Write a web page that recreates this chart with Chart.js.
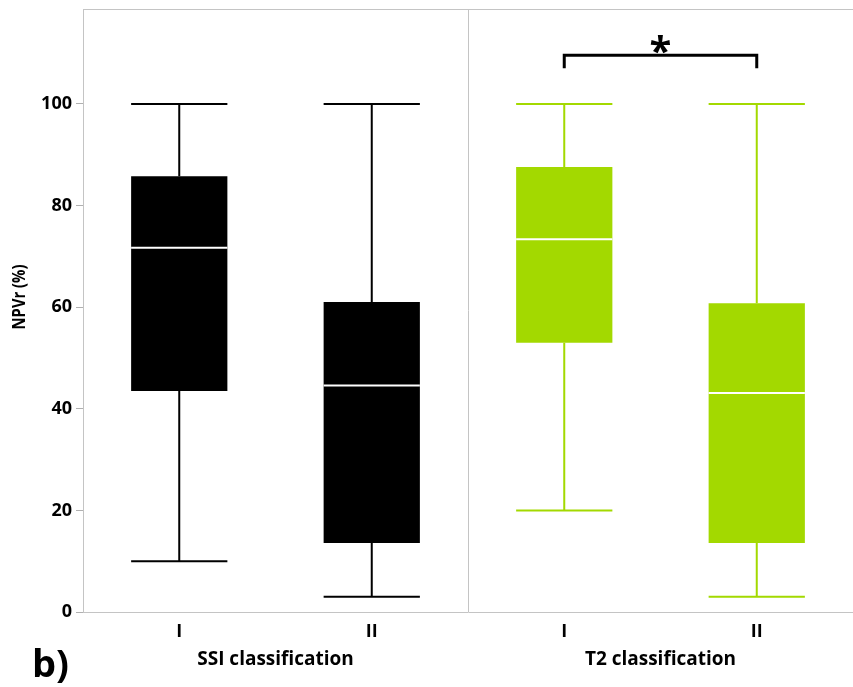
<!DOCTYPE html>
<html>
<head>
<meta charset="utf-8">
<script src="https://cdn.jsdelivr.net/npm/chart.js@4.4.1/dist/chart.umd.min.js"></script>
<style>
  html, body { margin: 0; padding: 0; background: #fff; }
  #wrap { width: 853px; height: 687px; }
</style>
</head>
<body>
<div id="wrap"><canvas id="boxChart"></canvas></div>
<script>
/* ---------- DATA ---------- */
const categories = ['I', 'II', 'I', 'II'];
const groups = ['SSI classification', 'T2 classification'];
const whiskerLow = [10, 3, 20, 3];
const q1 = [43.5, 13.6, 53, 13.6];
const median = [71.7, 44.6, 73.4, 43.1];
const q3 = [85.8, 61, 87.6, 60.8];
const whiskerHigh = [100, 100, 100, 100];
const yTicks = [0, 20, 40, 60, 80, 100];
const sigPair = [2, 3];
const sigLevel = 109.6;
const sigLabel = '*';
const yTitle = 'NPVr (%)';
const panelLabel = 'b)';

const BLACK = '#000000';
const GREEN = '#a3d900';
const boxColors = [BLACK, BLACK, GREEN, GREEN];
const FONT = '"Open Sans", "DejaVu Sans", sans-serif';

/* ---------- BOX EXTRAS: whiskers, medians, frame, labels ---------- */
const boxExtras = {
  id: 'boxExtras',
  afterDatasetsDraw(chart) {
    const { ctx, chartArea, scales: { x, y } } = chart;
    const bars = chart.getDatasetMeta(0).data;
    ctx.save();

    bars.forEach((bar, i) => {
      const half = bar.width / 2;
      const cx = bar.x;
      // whiskers
      ctx.strokeStyle = boxColors[i];
      ctx.lineWidth = 2;
      ctx.beginPath();
      ctx.moveTo(cx, y.getPixelForValue(q3[i]));
      ctx.lineTo(cx, y.getPixelForValue(whiskerHigh[i]));
      ctx.moveTo(cx - half, y.getPixelForValue(whiskerHigh[i]));
      ctx.lineTo(cx + half, y.getPixelForValue(whiskerHigh[i]));
      ctx.moveTo(cx, y.getPixelForValue(q1[i]));
      ctx.lineTo(cx, y.getPixelForValue(whiskerLow[i]));
      ctx.moveTo(cx - half, y.getPixelForValue(whiskerLow[i]));
      ctx.lineTo(cx + half, y.getPixelForValue(whiskerLow[i]));
      ctx.stroke();
      // median
      ctx.strokeStyle = '#ffffff';
      ctx.beginPath();
      ctx.moveTo(cx - half, y.getPixelForValue(median[i]));
      ctx.lineTo(cx + half, y.getPixelForValue(median[i]));
      ctx.stroke();
    });

    // top frame + group separator
    ctx.strokeStyle = '#c4c4c4';
    ctx.lineWidth = 1;
    ctx.beginPath();
    ctx.moveTo(chartArea.left, chartArea.top + 0.5);
    ctx.lineTo(chartArea.right, chartArea.top + 0.5);
    const sep = Math.round((x.getPixelForValue(1) + x.getPixelForValue(2)) / 2) + 0.5;
    ctx.moveTo(sep, chartArea.top);
    ctx.lineTo(sep, chartArea.bottom);
    ctx.stroke();

    // significance bracket
    const x1 = x.getPixelForValue(sigPair[0]);
    const x2 = x.getPixelForValue(sigPair[1]);
    const yb = y.getPixelForValue(sigLevel);
    ctx.strokeStyle = BLACK;
    ctx.lineWidth = 3;
    ctx.lineCap = 'butt';
    ctx.lineJoin = 'miter';
    ctx.beginPath();
    ctx.moveTo(x1, yb + 13);
    ctx.lineTo(x1, yb);
    ctx.lineTo(x2, yb);
    ctx.lineTo(x2, yb + 13);
    ctx.stroke();
    ctx.fillStyle = BLACK;
    ctx.font = `bold 40px ${FONT}`;
    ctx.textAlign = 'center';
    ctx.textBaseline = 'alphabetic';
    ctx.fillText(sigLabel, (x1 + x2) / 2, yb + 10);

    // group labels
    ctx.font = `bold 19px ${FONT}`;
    ctx.textBaseline = 'middle';
    groups.forEach((g, gi) => {
      const gx = (x.getPixelForValue(gi * 2) + x.getPixelForValue(gi * 2 + 1)) / 2;
      ctx.fillText(g, gx, 660);
    });

    // y axis title (slightly condensed)
    ctx.save();
    ctx.translate(20, 297);
    ctx.rotate(-Math.PI / 2);
    ctx.scale(0.87, 1);
    ctx.font = `bold 17px ${FONT}`;
    ctx.fillText(yTitle, 0, 0);
    ctx.restore();

    // panel label
    ctx.font = `bold 38px ${FONT}`;
    ctx.textAlign = 'left';
    ctx.textBaseline = 'alphabetic';
    ctx.fillText(panelLabel, 32, 677);

    ctx.restore();
  }
};

/* ---------- CHART ---------- */
new Chart(document.getElementById('boxChart'), {
  type: 'bar',
  data: {
    labels: categories,
    datasets: [{
      data: categories.map((_, i) => [q1[i], q3[i]]),
      backgroundColor: boxColors,
      borderWidth: 0,
      borderSkipped: false,
      barPercentage: 0.5,
      categoryPercentage: 1
    }]
  },
  options: {
    responsive: true,
    maintainAspectRatio: false,
    animation: false,
    layout: { padding: { top: 9, right: 0, bottom: 0, left: 0 } },
    plugins: { legend: { display: false }, tooltip: { enabled: false } },
    scales: {
      x: {
        grid: { display: false, drawTicks: false },
        border: { display: true, color: '#c4c4c4' },
        ticks: { color: BLACK, font: { family: FONT, size: 18, weight: 'bold' }, padding: 9 },
        afterFit: s => { s.height = 75; s.paddingLeft = 0; s.paddingRight = 0; }
      },
      y: {
        min: 0,
        max: 118.7,
        afterBuildTicks: s => { s.ticks = yTicks.map(v => ({ value: v })); },
        grid: { drawOnChartArea: false, drawTicks: true, tickLength: 7, color: '#b0b0b0' },
        border: { display: true, color: '#c4c4c4' },
        ticks: { color: BLACK, font: { family: FONT, size: 18, weight: 'bold' }, padding: 4 },
        afterFit: s => { s.width = 83; s.paddingTop = 0; s.paddingBottom = 0; }
      }
    }
  },
  plugins: [boxExtras]
});
</script>
</body>
</html>
